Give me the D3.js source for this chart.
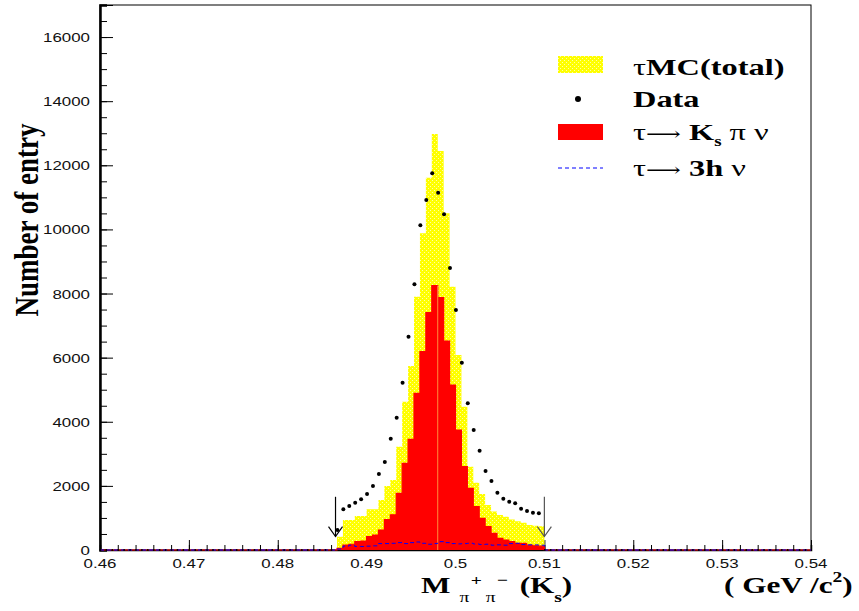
<!DOCTYPE html>
<html><head><meta charset="utf-8">
<script src="https://cdn.jsdelivr.net/npm/d3@7"></script>
<style>body{margin:0;background:#fff} svg{display:block}</style>
</head><body><svg id="c" width="859" height="611"></svg>
<script>
// ---------------- data ----------------
const xDomain = [0.46, 0.54];
const yDomain = [0, 17000];
const nBins = 120;                 // 0.08 / 120 GeV per bin
const firstBin = 40;               // first non-empty bin
// tau MC (total)
const mcTotal = [415, 936, 936, 1060, 1060, 1268, 1268, 1560, 2000, 2180,
  3222, 4626, 5739, 7900, 9878, 11612, 12975, 12445, 10502, 8212,
  6082, 4470, 2598, 2100, 1750, 1400, 1200, 1090, 1040, 950,
  900, 850, 780, 760, 740];
// tau -> Ks pi nu
const ksPiNu = [53, 156, 180, 260, 280, 415, 468, 624, 950, 1100,
  1768, 2703, 3452, 4887, 6185, 7402, 8244, 7870, 6519, 5146,
  3743, 2598, 1924, 1351, 988, 727, 520, 364, 312, 260,
  208, 208, 150, 130, 120];
// tau -> 3h nu
const threeHNu = [30, 120, 150, 110, 110, 120, 130, 200, 200, 210,
  230, 200, 230, 250, 210, 180, 200, 260, 230, 200,
  190, 200, 210, 190, 170, 180, 150, 160, 150, 200,
  210, 170, 160, 160, 150];
// Data
const dataCounts = [624, 1270, 1372, 1476, 1580, 1747, 2000, 2370, 2745, 3472,
  4127, 5219, 6653, 8287, 10127, 10917, 11749, 11145, 10470, 8796,
  7486, 5842, 4575, 3743, 3097, 2464, 2152, 1787, 1600, 1507,
  1457, 1288, 1216, 1164, 1144];
const xTicks = [0.46, 0.47, 0.48, 0.49, 0.50, 0.51, 0.52, 0.53, 0.54];
const xTickLabels = ["0.46", "0.47", "0.48", "0.49", "0.5", "0.51", "0.52", "0.53", "0.54"];
const yTicks = [0, 2000, 4000, 6000, 8000, 10000, 12000, 14000, 16000];
const yTickLabels = ["0", "2000", "4000", "6000", "8000", "10000", "12000", "14000", "16000"];
const cuts = [0.4865, 0.51];
const arrowRange = [1660, 420];
const ksMass = 0.498;

// ---------------- layout ----------------
const svg = d3.select("#c");
const L = 100, R = 811, T = 5, B = 550;
const x = d3.scaleLinear().domain(xDomain).range([L, R]);
const y = d3.scaleLinear().domain(yDomain).range([B, T]);
const binW = (xDomain[1] - xDomain[0]) / nBins;
const edge = k => xDomain[0] + k * binW;
const full = arr => d3.range(nBins).map(k => (k >= firstBin && k < firstBin + arr.length) ? arr[k - firstBin] : 0);

const SX = 1.3;  // horizontal stretch of all lettering
const serif = "'Liberation Serif','Times New Roman',serif";
const sans = "'Liberation Sans',Arial,sans-serif";

// pattern for yellow fill
const defs = svg.append("defs");
const pat = defs.append("pattern").attr("id", "yel").attr("patternUnits", "userSpaceOnUse")
  .attr("width", 4).attr("height", 4);
pat.append("rect").attr("width", 4).attr("height", 4).attr("fill", "#ffff00");
[[0,0],[2,2]].forEach(([a,b]) => pat.append("rect").attr("x", a).attr("y", b)
  .attr("width", 1).attr("height", 1).attr("fill", "#ffffa8"));

// frame
svg.append("rect").attr("x", L).attr("y", T).attr("width", R - L).attr("height", B - T)
  .attr("fill", "none").attr("stroke", "#000").attr("stroke-width", 1);

// axes ticks (inward)
const gx = svg.append("g").attr("transform", `translate(0,${B})`);
gx.call(d3.axisBottom(x).tickValues(d3.range(0, 41).map(i => 0.46 + i * 0.002)).tickSize(-5).tickFormat(""));
gx.append("g").call(d3.axisBottom(x).tickValues(xTicks).tickSize(-10).tickFormat(""));
const gy = svg.append("g").attr("transform", `translate(${L},0)`);
gy.call(d3.axisLeft(y).tickValues(d3.range(0, 35).map(i => i * 500)).tickSize(-7).tickFormat(""));
gy.append("g").call(d3.axisLeft(y).tickValues(yTicks).tickSize(-13).tickFormat(""));
svg.selectAll(".domain").attr("stroke", "#000");
svg.selectAll(".tick line").attr("stroke", "#000").attr("stroke-width", 1);
gx.select(".domain").attr("stroke-width", 1.5);
gy.select(".domain").attr("stroke-width", 2.5);

// histogram helpers
const stepPts = arr => {
  const f = arr.map((v, i) => [edge(firstBin + i), v]);
  f.push([edge(firstBin + arr.length), arr[arr.length - 1]]);
  return f;
};
const area = d3.area().curve(d3.curveStepAfter).x(d => x(d[0])).y0(y(0)).y1(d => y(d[1]));
const line = d3.line().curve(d3.curveStepAfter).x(d => x(d[0])).y(d => y(d[1]));
const fullPts = arr => { const f = full(arr).map((v, k) => [edge(k), v]); f.push([edge(nBins), 0]); return f; };

svg.append("path").attr("d", area(stepPts(mcTotal))).attr("fill", "url(#yel)");
svg.append("path").attr("d", area(stepPts(ksPiNu))).attr("fill", "#ff0000");
svg.append("path").attr("d", line(fullPts(ksPiNu))).attr("fill", "none").attr("stroke", "#ff0000").attr("stroke-width", 1.2);
const kIdx = Math.round((ksMass - xDomain[0]) / binW) - firstBin;
svg.append("line").attr("x1", x(ksMass)).attr("x2", x(ksMass))
  .attr("y1", y(0)).attr("y2", y(Math.max(ksPiNu[kIdx - 1], ksPiNu[kIdx])))
  .attr("stroke", "#ff8c3c").attr("stroke-width", 1);
svg.append("path").attr("d", line(fullPts(threeHNu))).attr("fill", "none")
  .attr("stroke", "#0000ff").attr("stroke-width", 1).attr("stroke-dasharray", "4,3");

// data points
const dAll = full(dataCounts);
svg.append("g").selectAll("circle").data(dAll).join("circle")
  .attr("cx", (d, k) => x(edge(k) + 0.07 * binW)).attr("cy", d => y(d))
  .attr("r", d => d > 0 ? 2 : 0.9).attr("fill", "#000");

// cut arrows
cuts.forEach((c, i) => {
  const col = i === 0 ? "#000" : "#555";
  const g = svg.append("g").attr("stroke", col).attr("fill", "none").attr("stroke-width", 1.2);
  g.append("line").attr("x1", x(c)).attr("x2", x(c)).attr("y1", y(arrowRange[0])).attr("y2", y(arrowRange[1]));
  g.append("path").attr("d", `M${x(c) - 7},${y(arrowRange[1]) - 10}L${x(c)},${y(arrowRange[1])}L${x(c) + 7},${y(arrowRange[1]) - 10}`);
});

// tick labels
svg.append("g").selectAll("text").data(xTicks).join("text")
  .attr("transform", d => `translate(${x(d)},${B + 18}) scale(${SX},1)`)
  .attr("text-anchor", "middle").attr("font-family", sans).attr("font-size", 13).attr("fill", "#111")
  .text((d, i) => xTickLabels[i]);
svg.append("g").selectAll("text").data(yTicks).join("text")
  .attr("transform", d => `translate(90,${y(d) + 5}) scale(${SX},1)`)
  .attr("text-anchor", "end").attr("font-family", sans).attr("font-size", 13).attr("fill", "#111")
  .text((d, i) => yTickLabels[i]);

// y title
svg.append("text").attr("transform", `translate(38,220) scale(1.25,1) rotate(-90)`)
  .attr("text-anchor", "middle").attr("font-family", serif).attr("font-weight", "bold")
  .attr("font-size", 27).text("Number of entry");

// x title
const xt = svg.append("text").attr("transform", `translate(421,593) scale(${SX},1)`)
  .attr("font-family", serif).attr("font-weight", "bold").attr("font-size", 24);
xt.append("tspan").text("M");
xt.append("tspan").attr("font-size", 15).attr("font-weight", "normal").attr("dx", 7).attr("dy", 9).text("π");
xt.append("tspan").attr("font-size", 15).attr("dx", 1).attr("dy", -17).text("+");
xt.append("tspan").attr("font-size", 15).attr("font-weight", "normal").attr("dx", 3).attr("dy", 17).text("π");
xt.append("tspan").attr("font-size", 15).attr("dx", 1).attr("dy", -17).text("−");
xt.append("tspan").attr("dx", 9).attr("dy", 8).text("(K");
xt.append("tspan").attr("font-size", 15).attr("dy", 9).text("s");
xt.append("tspan").attr("dy", -9).text(")");
const ut = svg.append("text").attr("transform", `translate(724,593) scale(${SX},1)`)
  .attr("font-family", serif).attr("font-weight", "bold").attr("font-size", 24);
ut.append("tspan").text("( GeV /c");
ut.append("tspan").attr("font-size", 15).attr("dy", -11).text("2");
ut.append("tspan").attr("dy", 11).text(")");

// legend
const lg = svg.append("g");
lg.append("rect").attr("x", 558).attr("y", 56).attr("width", 45).attr("height", 17).attr("fill", "url(#yel)");
lg.append("circle").attr("cx", 578).attr("cy", 99).attr("r", 3).attr("fill", "#000");
lg.append("rect").attr("x", 558).attr("y", 124).attr("width", 45).attr("height", 16).attr("fill", "#ff0000");
lg.append("line").attr("x1", 558).attr("x2", 603).attr("y1", 168).attr("y2", 168)
  .attr("stroke", "#0000ff").attr("stroke-dasharray", "4,3");
const legText = (yy) => lg.append("text").attr("transform", `translate(633,${yy}) scale(1.35,1)`)
  .attr("font-family", serif).attr("font-size", 24).attr("font-weight", "bold");
let t1 = legText(75); t1.append("tspan").attr("font-weight", "normal").text("τ"); t1.append("tspan").text("MC(total)");
let t2 = legText(107); t2.text("Data");
let t3 = legText(140);
t3.append("tspan").attr("font-weight", "normal").text("τ");
t3.append("tspan").attr("font-weight", "normal").attr("font-family", "'DejaVu Serif',serif").attr("font-size", 18).text("⟶");
t3.append("tspan").attr("dx", 6).text("K");
t3.append("tspan").attr("font-size", 14).attr("dy", 6).text("s");
t3.append("tspan").attr("font-weight", "normal").attr("dy", -6).text(" π ν");
let t4 = legText(176);
t4.append("tspan").attr("font-weight", "normal").text("τ");
t4.append("tspan").attr("font-weight", "normal").attr("font-family", "'DejaVu Serif',serif").attr("font-size", 18).text("⟶");
t4.append("tspan").attr("dx", 6).text("3h ");
t4.append("tspan").attr("font-weight", "normal").text("ν");
</script></body></html>
